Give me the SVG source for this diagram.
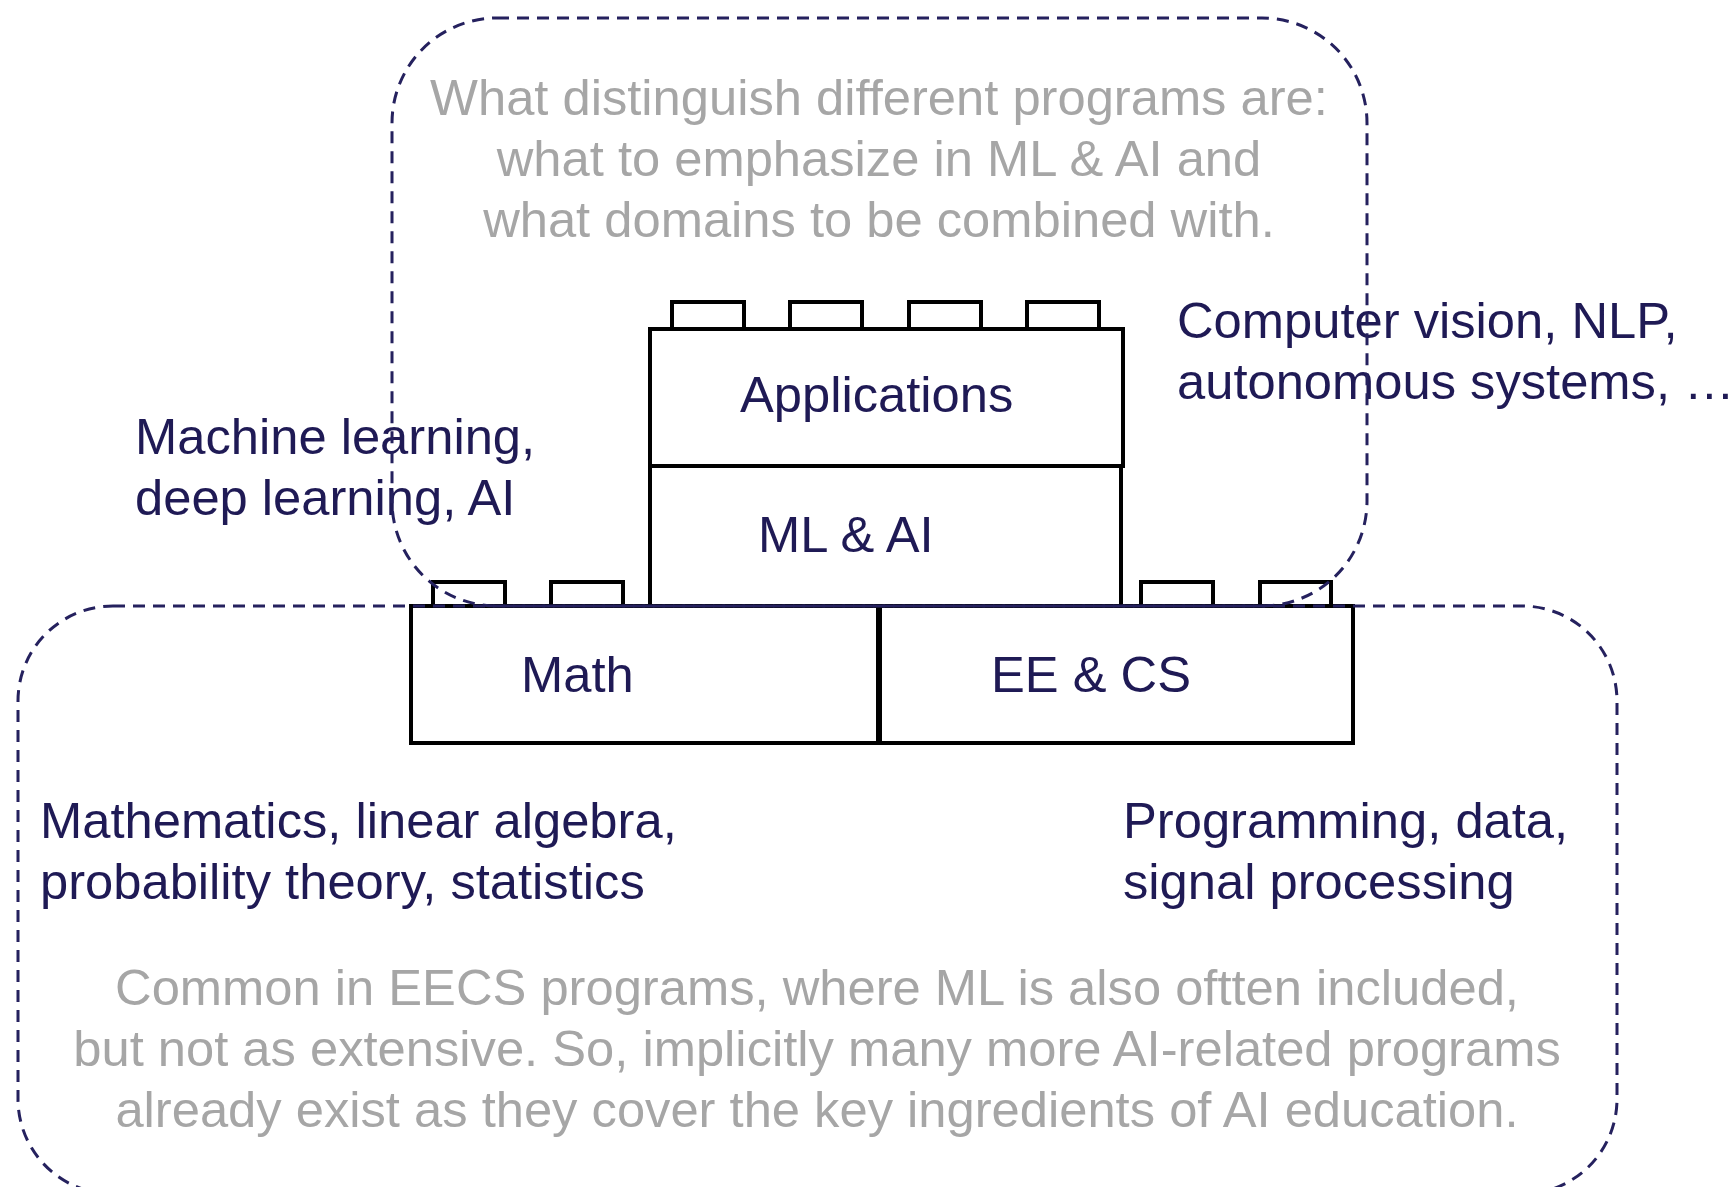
<svg xmlns="http://www.w3.org/2000/svg" width="1736" height="1187" viewBox="0 0 1736 1187">
<style>
.blk{fill:#fff;stroke:#000;stroke-width:4}
.stud{fill:#fff;stroke:#000;stroke-width:4}
.dash{fill:none;stroke:#25215E;stroke-width:3;stroke-dasharray:12 8}
.lbl{font-family:"Liberation Sans",Arial,sans-serif;font-size:50.7px;fill:#1F1A55}
.note{font-family:"Liberation Sans",Arial,sans-serif;font-size:50.7px;fill:#A6A6A6;text-anchor:middle}
</style>
<rect width="1736" height="1187" fill="#fff"/>
<g id="applications">
<rect class="stud" x="672" y="302" width="72" height="28"/>
<rect class="stud" x="790" y="302" width="72" height="28"/>
<rect class="stud" x="909" y="302" width="72" height="28"/>
<rect class="stud" x="1027" y="302" width="72" height="28"/>
<rect class="blk" x="650" y="329" width="473" height="137"/>
<text class="lbl" x="740" y="412">Applications</text>
</g>
<g id="mlai">
<rect class="blk" x="650" y="466" width="471" height="140"/>
<text class="lbl" x="758" y="552">ML &amp; AI</text>
</g>
<g id="math">
<rect class="stud" x="433" y="582" width="72" height="25"/>
<rect class="stud" x="551" y="582" width="72" height="25"/>
<rect class="blk" x="411" y="606" width="467" height="137"/>
<text class="lbl" x="521" y="692">Math</text>
</g>
<g id="eecs">
<rect class="stud" x="1141" y="582" width="72" height="25"/>
<rect class="stud" x="1260" y="582" width="71" height="25"/>
<rect class="blk" x="880" y="606" width="473" height="137"/>
<text class="lbl" x="991" y="692">EE &amp; CS</text>
</g>
<g id="labels">
<text class="lbl" x="135" y="454">Machine learning,</text>
<text class="lbl" x="135" y="515">deep learning, AI</text>
<text class="lbl" x="1177" y="338">Computer vision, NLP,</text>
<text class="lbl" x="1177" y="399">autonomous systems, …</text>
<text class="lbl" x="40" y="838">Mathematics, linear algebra,</text>
<text class="lbl" x="40" y="899">probability theory, statistics</text>
<text class="lbl" x="1123" y="838">Programming, data,</text>
<text class="lbl" x="1123" y="899">signal processing</text>
</g>
<g id="notes">
<text class="note" x="879" y="115">What distinguish different programs are:</text>
<text class="note" x="879" y="176">what to emphasize in ML &amp; AI and</text>
<text class="note" x="879" y="237">what domains to be combined with.</text>
<text class="note" x="817" y="1005">Common in EECS programs, where ML is also oftten included,</text>
<text class="note" x="817" y="1066">but not as extensive. So, implicitly many more AI-related programs</text>
<text class="note" x="817" y="1127">already exist as they cover the key ingredients of AI education.</text>
</g>
<g id="connectors">
<rect class="dash" x="392" y="18" width="975" height="588" rx="105" ry="105"/>
<rect class="dash" x="18" y="606" width="1599" height="588" rx="95" ry="95"/>
</g>
</svg>
